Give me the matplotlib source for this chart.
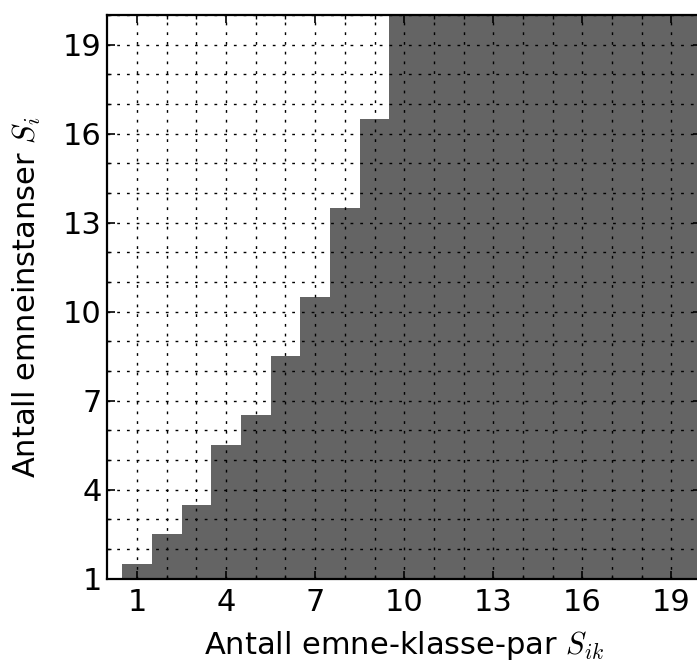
import numpy as np
import matplotlib.pyplot as plt
from matplotlib.colors import ListedColormap

plt.rcParams['mathtext.fontset'] = 'cm'

# --- Data ---
# S_ik values (columns) and the highest S_i that is filled in each column
s_ik = list(range(1, 21))
max_s_i = [1, 2, 3, 5, 6, 8, 10, 13, 16, 20, 20, 20, 20, 20, 20, 20, 20, 20, 20, 20]
s_i = list(range(1, 21))
tick_vals = [1, 4, 7, 10, 13, 16, 19]

FILL = '#646464'

# build the grid: 1 where S_i <= max_s_i for that column
grid = np.zeros((len(s_i), len(s_ik)))
for j, top in enumerate(max_s_i):
    for i, v in enumerate(s_i):
        if v <= top:
            grid[i, j] = 1

fig = plt.figure(figsize=(6.97, 6.64), dpi=100)
ax = fig.add_axes([0.154, 0.1285, 0.852, 0.849])

x_edges = np.arange(len(s_ik) + 1) + 0.5
y_edges = np.arange(len(s_i) + 1) + 0.5
ax.pcolormesh(x_edges, y_edges, grid, cmap=ListedColormap(['white', FILL]),
              vmin=0, vmax=1, shading='flat')

ax.set_xlim(0, 20)
ax.set_ylim(1, 20)

ax.set_xticks(tick_vals)
ax.set_yticks(tick_vals)
ax.set_xticks(s_ik, minor=True)
ax.set_yticks(s_i, minor=True)
ax.tick_params(which='major', direction='in', length=6, width=1.2,
               labelsize=22, top=True, right=True)
ax.tick_params(which='minor', direction='in', length=3, width=1,
               top=True, right=True)
ax.tick_params(axis='x', which='major', pad=7)
ax.tick_params(axis='y', which='major', pad=4)

ax.grid(True, which='both', color='black', linestyle=(0, (2, 5)), linewidth=1.0)
ax.set_axisbelow(False)

for sp in ax.spines.values():
    sp.set_linewidth(1.6)

ax.set_xlabel('Antall emne-klasse-par $S_{ik}$', fontsize=22, labelpad=8)
ax.set_ylabel('Antall emneinstanser $S_i$', fontsize=22, labelpad=14)

fig.savefig('out.png', dpi=100)
